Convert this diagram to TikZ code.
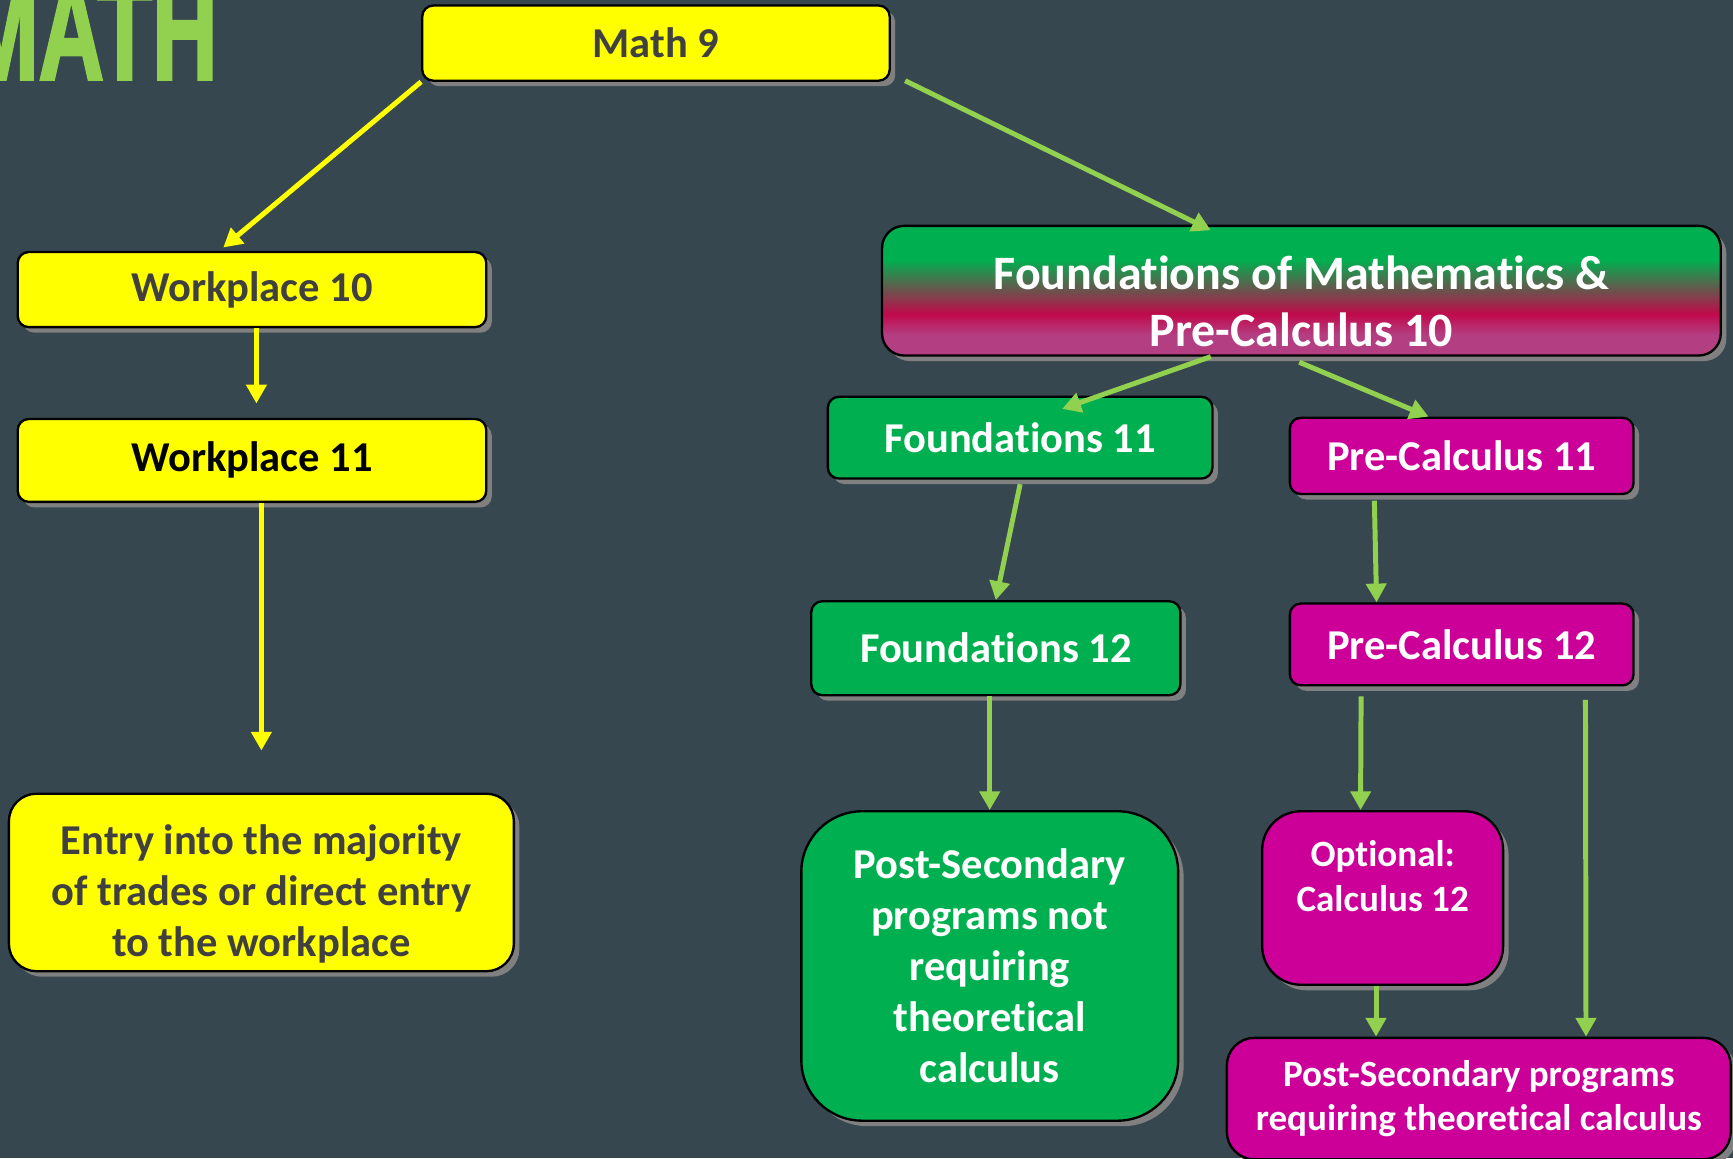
\documentclass[tikz,border=0pt]{standalone}
\usepackage{fontspec}
\setmainfont{Carlito}[Ligatures={NoCommon}]
\newfontfamily\titlefont{Liberation Sans}[BoldFeatures={FakeBold=2.5}]
\usepackage{tikz}
\usetikzlibrary{arrows.meta, positioning, calc, shadows}
\usepackage{xcolor}

\definecolor{slate}{RGB}{55,71,79}
\definecolor{mathyellow}{RGB}{255,255,0}
\definecolor{mathgreen}{RGB}{0,176,80}
\definecolor{mathpink}{RGB}{204,0,153}
\definecolor{linegreen}{RGB}{146,208,80}
\definecolor{shadowgray}{RGB}{128,128,128}
\definecolor{darktext}{RGB}{64,64,64}
\definecolor{fpgreen}{RGB}{0,176,80}
\definecolor{fpred}{RGB}{192,10,75}
\definecolor{fppink}{RGB}{180,62,130}

\pgfdeclareverticalshading{fpshade}{100bp}{color(0bp)=(fppink); color(33bp)=(fppink); color(41bp)=(fpred); color(62bp)=(fpgreen); color(100bp)=(fpgreen)}

\begin{document}
\begin{tikzpicture}[
  x=0.02cm, y=-0.02cm,
  course/.style={rectangle, draw=black, line width=1.2pt, rounded corners=0.2cm, align=center, inner sep=0.15cm,
    font=\fontsize{21.9}{26.2}\selectfont\bfseries,
    drop shadow={shadow xshift=0.1cm, shadow yshift=-0.1cm, fill=shadowgray, opacity=1}},
  yellowbox/.style={course, fill=mathyellow, text=darktext},
  greenbox/.style={course, fill=mathgreen, text=white},
  pinkbox/.style={course, fill=mathpink, text=white},
  yarrow/.style={line width=0.09cm, mathyellow, -{Triangle[width=0.36cm, length=0.34cm]}},
  garrow/.style={line width=0.09cm, linegreen, -{Triangle[width=0.36cm, length=0.34cm]}}
]

% Background
\useasboundingbox (0,0) rectangle (1568,1048);
\fill[slate] (0,0) rectangle (1568,1048);

% Title
\node[anchor=base east, inner sep=0pt, xscale=0.65, text=linegreen,
  font=\titlefont\bfseries\fontsize{71.5}{72}\selectfont] (title) at (197,71.5) {MATH};

% Workplace path
\node[yellowbox, minimum width=8.46cm, minimum height=1.36cm] (math9) at (593.5,39) {Math 9};
\node[yellowbox, minimum width=8.48cm, minimum height=1.36cm] (work10) at (228,262) {Workplace 10};
\node[yellowbox, text=black, minimum width=8.48cm, minimum height=1.5cm, below=1.62cm of work10] (work11) {Workplace 11};
\node[yellowbox, rounded corners=0.5cm, minimum width=9.14cm, minimum height=3.16cm, below=5.24cm of work11, xshift=0.17cm] (entry)
  {\rule{0pt}{0.95cm}Entry into the majority\\of trades or direct entry\\to the workplace};

% Foundations / Pre-Calculus path
\node[course, shade, shading=fpshade, text=white, rounded corners=0.4cm, minimum width=15.18cm, minimum height=2.24cm,
  font=\fontsize{24.7}{29.6}\selectfont\bfseries] (fpc10) at (1177.5,263)
  {\rule{0pt}{1.0cm}Foundations of Mathematics \&\\Pre-Calculus 10};
\node[greenbox, minimum width=6.96cm, minimum height=1.48cm] (f11) at (923,396) {Foundations 11};
\node[pinkbox, minimum width=6.22cm, minimum height=1.38cm] (pc11) at (1322.5,412.5) {Pre-Calculus 11};
\node[greenbox, minimum width=6.68cm, minimum height=1.7cm] (f12) at (901,586.5) {Foundations 12};
\node[pinkbox, minimum width=6.22cm, minimum height=1.48cm, below=1.94cm of pc11] (pc12) {Pre-Calculus 12};
\node[greenbox, rounded corners=1.1cm, minimum width=6.82cm, minimum height=5.6cm] (psnot) at (895.5,874)
  {Post-Secondary\\programs not\\requiring\\theoretical\\calculus};
\node[pinkbox, rounded corners=0.7cm, minimum width=4.36cm, minimum height=3.14cm,
  font=\fontsize{19.1}{22.8}\selectfont\bfseries] (opt) at (1251,812.5) {Optional:\\Calculus 12\\\mbox{}};
\node[pinkbox, rounded corners=0.5cm, minimum width=9.12cm, minimum height=2.2cm,
  font=\fontsize{19.1}{22.8}\selectfont\bfseries] (psreq) at (1338,994)
  {Post-Secondary programs\\requiring theoretical calculus};

% Connections
\draw[yarrow] (math9.south west) -- ($(work10.north)+(-26,-3)$);
\draw[garrow] ($(math9.south east)+(13,-1)$) -- ($(fpc10.north)+(-82,5)$);
\draw[yarrow] ($(work10.south)+(4,0)$) -- ($(work11.north)+(4,-13)$);
\draw[yarrow] (work11.south -| entry.north) -- ($(entry.north)+(0,-38)$);
\draw[garrow] ($(fpc10.south)+(-82,0)$) -- ($(f11.north)+(38,12)$);
\draw[garrow] ($(fpc10.south)+(-2,5)$) -- ($(pc11.north)+(-30,0)$);
\draw[garrow] ($(f11.south)+(0,4)$) -- (f12.north);
\draw[garrow] ($(pc11.south)+(-79,5)$) -- ($(pc12.north)+(-77,0)$);
\draw[garrow] (f12.south -| psnot.north) -- (psnot.north);
\draw[garrow] ($(pc12.south)+(-91,9)$) -- ($(opt.north)+(-20,0)$);
\draw[garrow] ($(pc12.south)+(112,12)$) -- ($(psreq.north)+(97,0)$);
\draw[garrow] ($(opt.south)+(-6,0)$) -- ($(psreq.north)+(-93,0)$);

\end{tikzpicture}
\end{document}
